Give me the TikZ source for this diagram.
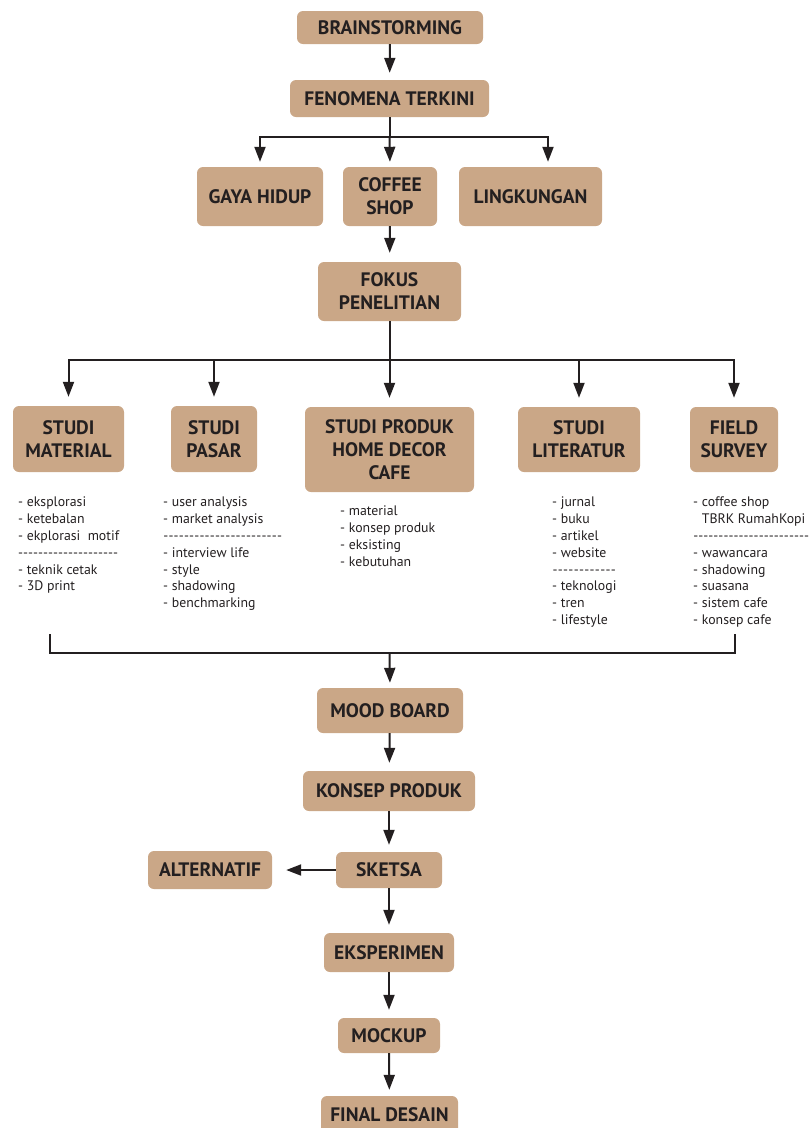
\documentclass[tikz,border=0pt]{standalone}
\usepackage{fontspec}
\setmainfont{PT Sans}
\usetikzlibrary{arrows.meta}
\definecolor{kopi}{RGB}{202,167,135}
\definecolor{tinta}{RGB}{35,31,32}
\newcommand{\garis}[1]{\hbox to #1{\xleaders\hbox{-}\hfill}}

\begin{document}
\begin{tikzpicture}[x=1pt, y=-1pt, >={Triangle[width=11pt,length=15pt]},
  kotak/.style={fill=kopi, rounded corners=6pt, align=center, text=tinta, inner sep=0pt,
    font=\bfseries\fontsize{19.5}{23}\selectfont},
  daftar/.style={anchor=north west, align=left, inner sep=0pt, text=tinta,
    font=\fontsize{13.8}{16.8}\selectfont},
  panah/.style={->, line width=2pt, draw=tinta, shorten >=7pt},
  garisan/.style={line width=2pt, draw=tinta}]
\useasboundingbox (0,0) rectangle (811,1128);

% alur atas
\node[kotak, minimum width=186pt, minimum height=33pt] (brain) at (390,27.5) {BRAINSTORMING};
\node[kotak, minimum width=199pt, minimum height=37pt] (fen) at (389.5,98.5) {FENOMENA TERKINI};
\node[kotak, minimum width=126pt, minimum height=59pt] (gaya) at (260,196.5) {GAYA HIDUP};
\node[kotak, minimum width=94pt, minimum height=59pt] (coffee) at (390,196.5) {COFFEE\\SHOP};
\node[kotak, minimum width=143pt, minimum height=59pt] (ling) at (530.5,196.5) {LINGKUNGAN};
\node[kotak, minimum width=143pt, minimum height=59pt] (fokus) at (389.5,291.5) {FOKUS\\PENELITIAN};

\coordinate (hubA) at (389.5,137);
\draw[panah] (brain) -- (fen);
\draw[garisan] (fen.south) -- (hubA);
\draw[panah, shorten >=5pt] (hubA) -| (gaya.north);
\draw[panah, shorten >=5pt] (hubA) -- (coffee.north);
\draw[panah, shorten >=5pt] (hubA) -| ([xshift=17.5pt]ling.north);
\draw[panah, shorten >=9pt] (coffee) -- (fokus);

% studi
\node[kotak, minimum width=111pt, minimum height=66pt] (mat) at (68.5,439) {STUDI\\MATERIAL};
\node[kotak, minimum width=86pt, minimum height=66pt] (pasar) at (214,439) {STUDI\\PASAR};
\node[kotak, minimum width=169pt, minimum height=85pt] (produk) at (389.5,449.5) {STUDI PRODUK\\HOME DECOR\\CAFE};
\node[kotak, minimum width=122pt, minimum height=65pt] (lit) at (579,439.5) {STUDI\\LITERATUR};
\node[kotak, minimum width=88pt, minimum height=65pt] (field) at (734,439.5) {FIELD\\SURVEY};

\coordinate (hubB) at (389.5,360);
\draw[garisan] (fokus.south) -- (hubB);
\draw[panah, shorten >=9pt] (hubB) -| (mat.north);
\draw[panah, shorten >=9pt] (hubB) -| (pasar.north);
\draw[panah, shorten >=9pt] (hubB) -- (produk.north);
\draw[panah, shorten >=9pt] (hubB) -| (lit.north);
\draw[panah, shorten >=9pt] (hubB) -| (field.north);

\node[daftar] (matlist) at (18,497) {- eksplorasi\\- ketebalan\\- ekplorasi~ motif\\\garis{100pt}\\- teknik cetak\\- 3D print};
\node[daftar] (pasarlist) at (163,497) {- user analysis\\- market analysis\\\garis{119pt}\\- interview life\\- style\\- shadowing\\- benchmarking};
\node[daftar] (produklist) at (340,506) {- material\\- konsep produk\\- eksisting\\- kebutuhan};
\node[daftar] (litlist) at (552,497) {- jurnal\\- buku\\- artikel\\- website\\\garis{64pt}\\- teknologi\\- tren\\- lifestyle};
\node[daftar] (fieldlist) at (693,497) {- coffee shop\\\phantom{- }TBRK RumahKopi\\\garis{116pt}\\- wawancara\\- shadowing\\- suasana\\- sistem cafe\\- konsep cafe};

% alur bawah
\coordinate (brL) at (50,634);
\coordinate (brR) at (735,634);
\coordinate (hubC) at (389.5,653);
\draw[garisan] (brL) -- (brL|-hubC) -- (brR|-hubC) -- (brR);

\node[kotak, minimum width=146pt, minimum height=45pt] (mood) at (390,710.5) {MOOD BOARD};
\node[kotak, minimum width=172pt, minimum height=40pt] (konsep) at (389,791) {KONSEP PRODUK};
\node[kotak, minimum width=106pt, minimum height=36pt] (sketsa) at (389,870) {SKETSA};
\node[kotak, minimum width=124pt, minimum height=38pt] (alt) at (210,870) {ALTERNATIF};
\node[kotak, minimum width=130pt, minimum height=39pt] (eksp) at (389,952.5) {EKSPERIMEN};
\node[kotak, minimum width=102pt, minimum height=35pt] (mock) at (389,1035.5) {MOCKUP};
\node[kotak, minimum width=137pt, minimum height=38pt] (final) at (389.5,1115) {FINAL DESAIN};

\draw[panah, shorten >=5pt] (hubC) -- (mood.north);
\draw[panah, shorten >=8pt] (mood) -- (konsep);
\draw[panah] (konsep) -- (sketsa);
\draw[panah, shorten >=14pt] (sketsa) -- (alt);
\draw[panah, shorten >=8pt] (sketsa) -- (eksp);
\draw[panah, shorten >=8pt] (eksp) -- (mock);
\draw[panah, shorten >=6pt] (mock) -- (final);
\end{tikzpicture}
\end{document}
